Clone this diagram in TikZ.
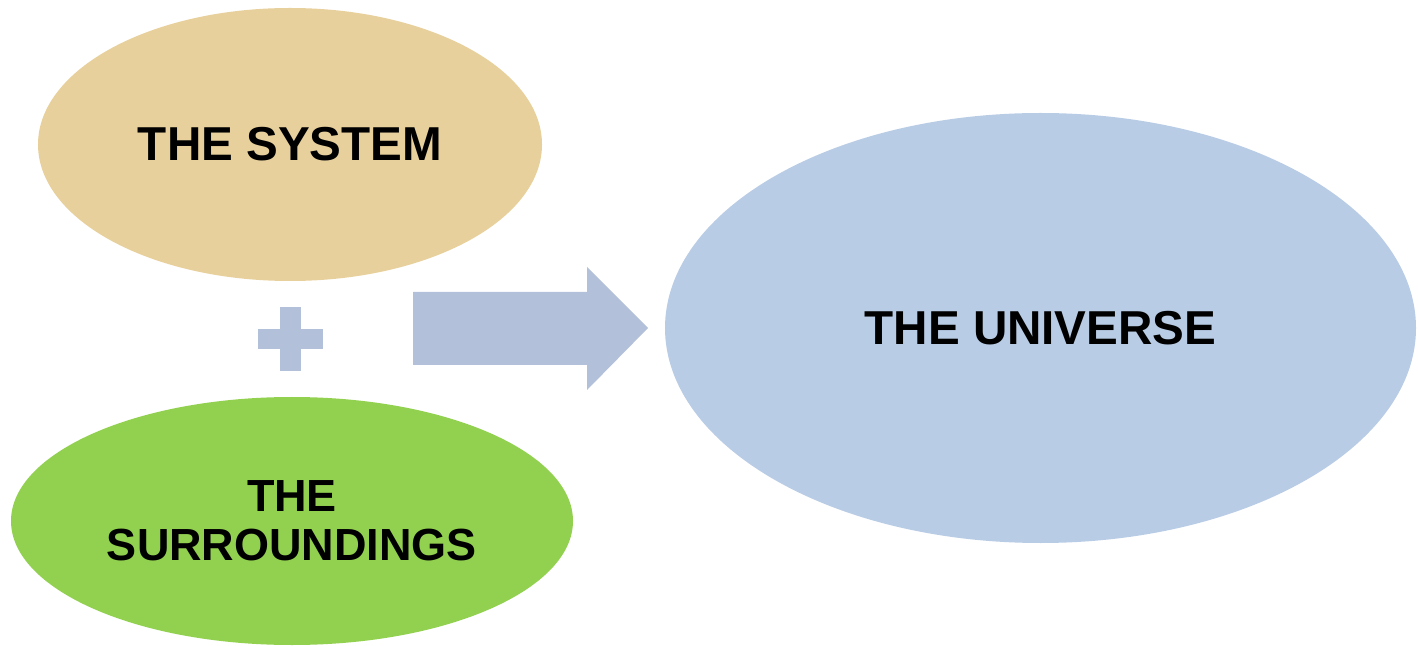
\documentclass[tikz,border=0pt]{standalone}
\usepackage{fontspec}
\setmainfont{Liberation Sans}
\usetikzlibrary{shapes.geometric}

\definecolor{papyrus}{RGB}{231,208,156}
\definecolor{leaf}{RGB}{146,208,80}
\definecolor{sky}{RGB}{185,204,229}
\definecolor{slate}{RGB}{179,192,217}

\begin{document}
\begin{tikzpicture}[x=.5pt,y=-.5pt,
  blob/.style={ellipse,inner sep=0pt,align=center,
    font=\bfseries\fontsize{23.8}{24.5}\selectfont}]

  \useasboundingbox (0,0) rectangle (1418,646);

  % the three ellipses
  \node[blob,fill=papyrus,minimum width=252pt,minimum height=136.5pt]
    (system) at (290,144.5) {THE SYSTEM};
  \node[blob,fill=leaf,minimum width=281pt,minimum height=124pt,
    font=\bfseries\fontsize{22.5}{24.5}\selectfont]
    (surr) at (292,521) {THE\\SURROUNDINGS};
  \node[blob,fill=sky,minimum width=375.5pt,minimum height=215pt]
    (universe) at (1040.5,328) {THE UNIVERSE};

  \begin{scope}[slate]
    % plus sign
    \fill (258,329) rectangle (323,349);
    \fill (280,307) rectangle (301,371);
    % block arrow
    \fill (413,292) -- (587,292) -- (587,267) -- (648,328)
      -- (587,390) -- (587,365) -- (413,365) -- cycle;
  \end{scope}
\end{tikzpicture}
\end{document}
